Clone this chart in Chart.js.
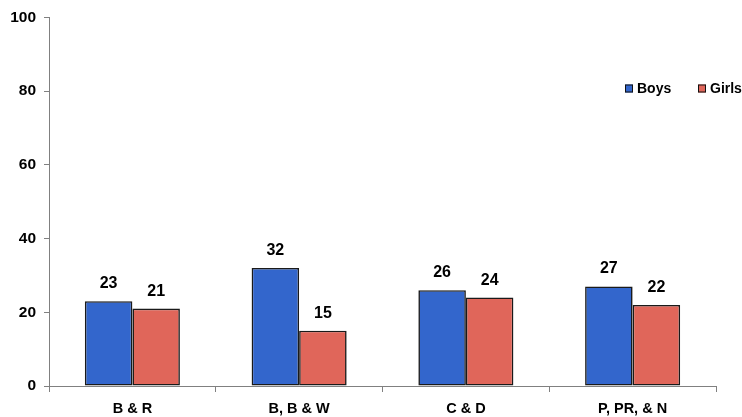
<!DOCTYPE html>
<html>
<head>
<meta charset="utf-8">
<script src="https://cdn.jsdelivr.net/npm/chart.js@4/dist/chart.umd.min.js"></script>
<style>
  html, body { margin: 0; padding: 0; background: #fff; }
  #wrap { width: 742px; height: 417px; position: relative; }
</style>
</head>
<body>
<div id="wrap"><canvas id="c"></canvas></div>
<script>
// Chart data
const categories = ['B & R', 'B, B & W', 'C & D', 'P, PR, & N'];
const boys = [23, 32, 26, 27];
const girls = [21, 15, 24, 22];
const yTicks = [0, 20, 40, 60, 80, 100];

const FONT = '"Liberation Sans", Arial, sans-serif';
const AXIS_GREY = '#808080';

// Value labels above each bar
const valueLabels = {
  id: 'valueLabels',
  afterDatasetsDraw(chart) {
    const ctx = chart.ctx;
    ctx.save();
    ctx.font = 'bold 16px ' + FONT;
    ctx.fillStyle = '#000';
    ctx.textAlign = 'center';
    ctx.textBaseline = 'alphabetic';
    chart.data.datasets.forEach((ds, i) => {
      chart.getDatasetMeta(i).data.forEach((bar, j) => {
        ctx.fillText(String(ds.data[j]), bar.x, bar.y - 13);
      });
    });
    ctx.restore();
  }
};

// Legend drawn inside the plot area, upper right
const insideLegend = {
  id: 'insideLegend',
  afterDraw(chart) {
    const ctx = chart.ctx;
    const items = [{ x: 625 }, { x: 698 }];
    const cy = 88.5;
    ctx.save();
    ctx.font = 'bold 14px ' + FONT;
    ctx.textBaseline = 'middle';
    ctx.textAlign = 'left';
    chart.data.datasets.forEach((ds, i) => {
      const x = items[i].x;
      ctx.fillStyle = ds.backgroundColor;
      ctx.fillRect(x, cy - 4, 8, 8);
      ctx.strokeStyle = '#111';
      ctx.lineWidth = 1;
      ctx.strokeRect(x + 0.5, cy - 3.5, 7, 7);
      ctx.fillStyle = '#000';
      ctx.fillText(ds.label, x + 12, cy + 1);
    });
    ctx.restore();
  }
};

new Chart(document.getElementById('c'), {
  type: 'bar',
  data: {
    labels: categories,
    datasets: [
      { label: 'Boys', data: boys, backgroundColor: '#3366CC', borderColor: '#1a1a1a', borderWidth: 1.6, borderSkipped: false },
      { label: 'Girls', data: girls, backgroundColor: '#E0665A', borderColor: '#1a1a1a', borderWidth: 1.6, borderSkipped: false }
    ]
  },
  options: {
    responsive: true,
    maintainAspectRatio: false,
    animation: false,
    layout: { padding: { top: 16, right: 26, left: 0, bottom: 0 } },
    plugins: {
      legend: { display: false },
      tooltip: { enabled: false }
    },
    datasets: {
      bar: { categoryPercentage: 0.57, barPercentage: 1.0 }
    },
    scales: {
      x: {
        grid: { display: true, drawOnChartArea: false, drawTicks: true, tickLength: 6, color: AXIS_GREY, offset: true },
        border: { display: true, color: AXIS_GREY, width: 1 },
        ticks: { color: '#000', font: { family: FONT, size: 14.5, weight: 'bold' }, padding: 8, maxRotation: 0 },
        afterFit(s) { s.height = 31; }
      },
      y: {
        min: 0, max: 100,
        afterBuildTicks(s) { s.ticks = yTicks.map(v => ({ value: v })); },
        grid: { display: true, drawOnChartArea: false, drawTicks: true, tickLength: 5, color: AXIS_GREY },
        border: { display: true, color: AXIS_GREY, width: 1 },
        ticks: { color: '#000', font: { family: FONT, size: 15.5, weight: 'bold' }, padding: 8 },
        afterFit(s) { s.width = 49; }
      }
    }
  },
  plugins: [valueLabels, insideLegend]
});
</script>
</body>
</html>
